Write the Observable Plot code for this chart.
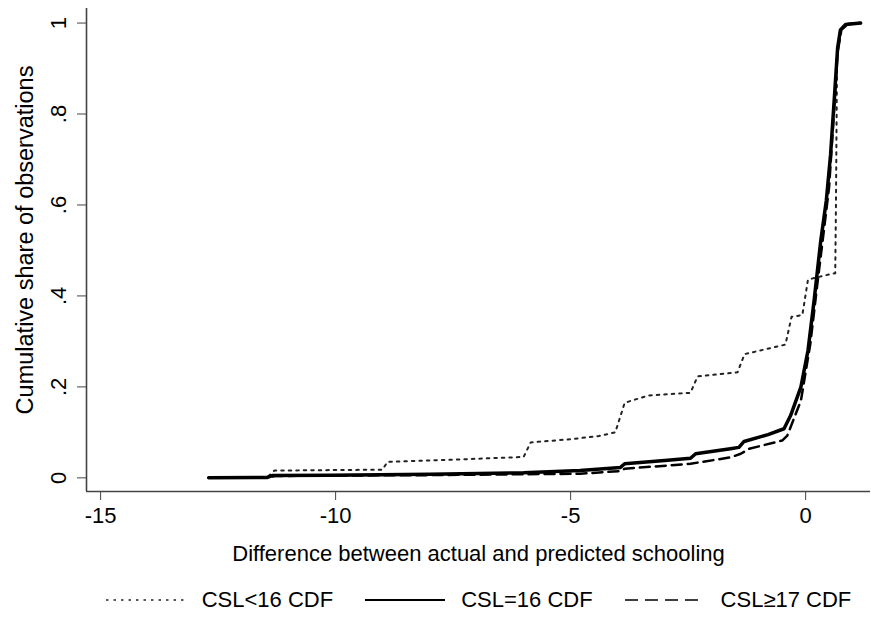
<!DOCTYPE html>
<html>
<head>
<meta charset="utf-8">
<script src="https://cdn.jsdelivr.net/npm/d3@7"></script>
<script src="https://cdn.jsdelivr.net/npm/@observablehq/plot@0.6"></script>
<style>
  html, body { margin: 0; padding: 0; background: #fff; }
  body { font-family: "Liberation Sans", Arial, Helvetica, sans-serif; width: 871px; }
  #legend { display: flex; justify-content: center; align-items: center; margin-left: 86px; width: 785px; height: 60px; font-size: 22px; color: #000; }
  .item { display: flex; align-items: center; }
  .item svg { margin-right: 16px; }
  .item + .item { margin-left: 32px; }
</style>
</head>
<body>
<div id="chart"></div>
<div id="legend"></div>
<script>
// ---- data ----
const seriesNames = ["CSL<16 CDF", "CSL=16 CDF", "CSL\u226517 CDF"];

// CSL<16 CDF (dotted)
const xLow = [-12.7, -11.45, -11.3, -9.0, -8.9, -7.5, -6.0, -5.85, -5.0, -4.4, -4.05, -3.85, -3.35, -2.45, -2.3, -1.45, -1.3, -0.43, -0.3, -0.07, 0.05, 0.57, 0.63, 0.645, 0.67, 0.78, 0.9, 1.17];
const yLow = [0.000, 0.002, 0.016, 0.018, 0.035, 0.040, 0.046, 0.078, 0.085, 0.092, 0.100, 0.165, 0.181, 0.187, 0.223, 0.232, 0.272, 0.293, 0.354, 0.358, 0.436, 0.449, 0.45, 0.60, 0.946, 0.99, 0.999, 1.0];

// CSL=16 CDF (solid)
const xMid = [-12.7, -11.45, -11.35, -10.1, -8.0, -6.0, -4.8, -3.94, -3.85, -3.0, -2.45, -2.34, -1.6, -1.42, -1.31, -0.8, -0.46, -0.32, -0.1, 0.05, 0.18, 0.32, 0.44, 0.53, 0.62, 0.68, 0.74, 0.85, 1.17];
const yMid = [0.000, 0.001, 0.005, 0.006, 0.008, 0.011, 0.016, 0.023, 0.031, 0.038, 0.043, 0.053, 0.064, 0.067, 0.080, 0.095, 0.108, 0.137, 0.200, 0.280, 0.390, 0.520, 0.610, 0.710, 0.850, 0.945, 0.985, 0.997, 1.0];

// CSL>=17 CDF (dashed)
const xHigh = [-12.7, -11.4, -11.3, -10.0, -8.0, -6.0, -4.8, -3.94, -3.85, -2.45, -1.6, -1.38, -1.2, -0.5, -0.39, -0.1, 0.1, 0.25, 0.38, 0.5, 0.6, 0.68, 0.76, 0.9, 1.17];
const yHigh = [0.000, 0.001, 0.004, 0.005, 0.006, 0.008, 0.009, 0.015, 0.020, 0.031, 0.045, 0.053, 0.064, 0.082, 0.093, 0.170, 0.295, 0.427, 0.537, 0.640, 0.800, 0.935, 0.985, 0.998, 1.0];

const xTicks = [-15, -10, -5, 0];
const yTicks = [0, 0.2, 0.4, 0.6, 0.8, 1];
const xDomain = [-15.3, 1.38];
const yDomain = [-0.030, 1.032];
const xTitle = "Difference between actual and predicted schooling";
const yTitle = "Cumulative share of observations";

// ---- build tables ----
const toRows = (xs, ys, name) => xs.map((x, i) => ({x, y: ys[i], series: name}));
const rowsLow = toRows(xLow, yLow, seriesNames[0]);
const rowsMid = toRows(xMid, yMid, seriesNames[1]);
const rowsHigh = toRows(xHigh, yHigh, seriesNames[2]);

const styles = [
  {stroke: "#222", strokeWidth: 2, strokeDasharray: "2.5,5"},
  {stroke: "#000", strokeWidth: 3.5, strokeDasharray: null},
  {stroke: "#000", strokeWidth: 2.5, strokeDasharray: "10,6"}
];

const fmtY = d => d === 0 ? "0" : d === 1 ? "1" : String(d).replace(/^0/, "");
const axisColor = "#444";
const fontSize = 22;

const chart = Plot.plot({
  width: 871,
  height: 570,
  marginLeft: 86,
  marginRight: 1,
  marginTop: 8,
  marginBottom: 79,
  style: {fontFamily: "'Liberation Sans', Arial, Helvetica, sans-serif", background: "#fff", color: "#000"},
  x: {domain: xDomain},
  y: {domain: yDomain},
  marks: [
    Plot.ruleY([yDomain[0]], {stroke: axisColor, strokeWidth: 1.6}),
    Plot.ruleX([xDomain[0]], {stroke: axisColor, strokeWidth: 1.6}),
    Plot.axisX(xTicks, {tickSize: 9, tickPadding: 7, fontSize, tickFormat: d => String(d), label: null, stroke: axisColor}),
    Plot.axisY(yTicks, {tickSize: 9, tickFormat: () => "", label: null, stroke: axisColor}),
    Plot.text(yTicks, {y: d => d, text: fmtY, frameAnchor: "left", textAnchor: "middle", lineAnchor: "middle", dx: -28, rotate: -90, fontSize, fill: "#000"}),
    Plot.text([yTitle], {frameAnchor: "left", textAnchor: "middle", lineAnchor: "middle", dx: -61, dy: -10, rotate: -90, fontSize: 23.5, fill: "#000"}),
    Plot.text([xTitle], {frameAnchor: "bottom", textAnchor: "middle", lineAnchor: "middle", dy: 62, fontSize, fill: "#000"}),
    Plot.line(rowsLow, {x: "x", y: "y", ...styles[0]}),
    Plot.line(rowsHigh, {x: "x", y: "y", ...styles[2]}),
    Plot.line(rowsMid, {x: "x", y: "y", ...styles[1]})
  ]
});
document.getElementById("chart").appendChild(chart);

// ---- legend ----
const legend = document.getElementById("legend");
seriesNames.forEach((name, i) => {
  const item = document.createElement("div");
  item.className = "item";
  const s = styles[i];
  item.innerHTML = `<svg width="80" height="10"><line x1="0" y1="5" x2="80" y2="5" stroke="${s.stroke}" stroke-width="${i === 1 ? 2 : 1.6}" ${s.strokeDasharray ? `stroke-dasharray="${i === 2 ? '13,7' : s.strokeDasharray}"` : ""}/></svg><span>${name}</span>`;
  legend.appendChild(item);
});
</script>
</body>
</html>
